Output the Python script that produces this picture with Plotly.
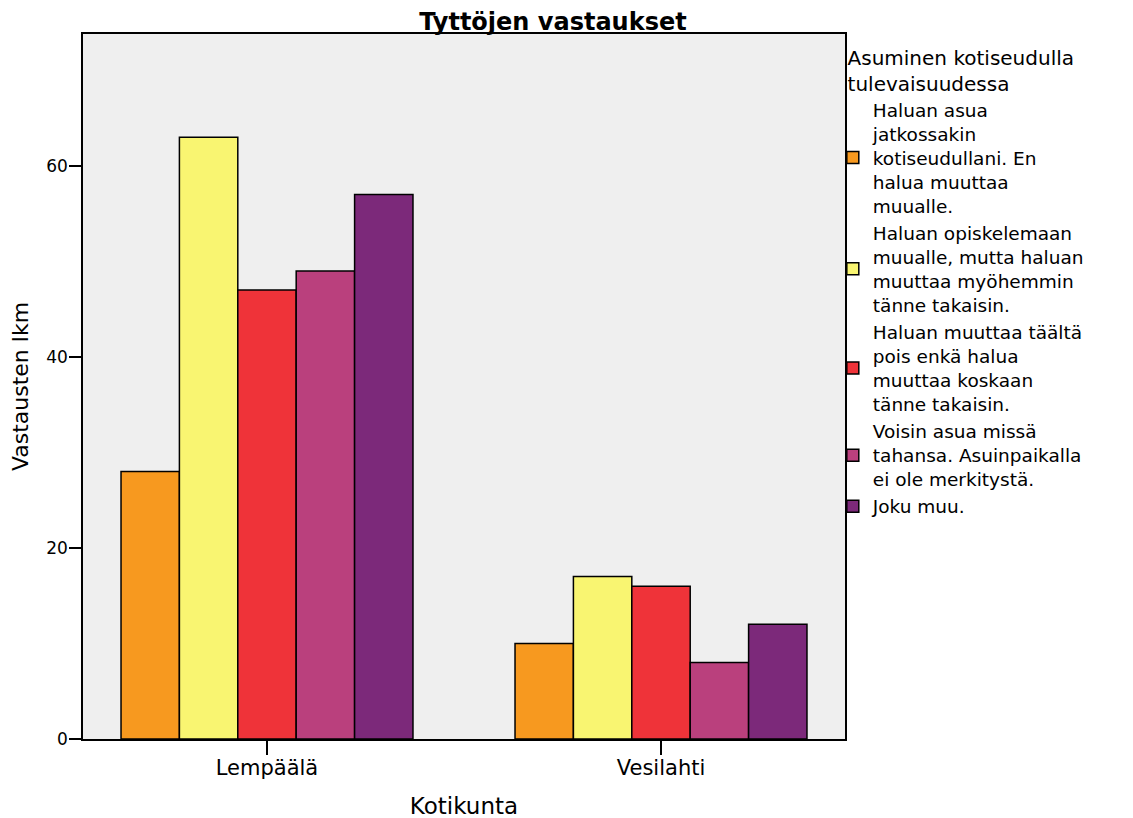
import plotly.graph_objects as go

# -------------------------------------------------
# Data
# -------------------------------------------------

municipalities = ["Lempäälä", "Vesilahti"]

answers = [
    "Haluan asua<br>jatkossakin<br>kotiseudullani. En<br>halua muuttaa<br>muualle.",
    "Haluan opiskelemaan<br>muualle, mutta haluan<br>muuttaa myöhemmin<br>tänne takaisin.",
    "Haluan muuttaa täältä<br>pois enkä halua<br>muuttaa koskaan<br>tänne takaisin.",
    "Voisin asua missä<br>tahansa. Asuinpaikalla<br>ei ole merkitystä.",
    "Joku muu.",
]

stay_home = [28, 10]
study_return = [63, 17]
move_never = [47, 16]
anywhere = [49, 8]
other = [57, 12]

colors = ["#F7991F", "#F9F571", "#EF3339", "#BA407D", "#7C297A"]

FONT = "DejaVu Sans"


# -------------------------------------------------
# Chart
# -------------------------------------------------

fig = go.Figure()

for name, values, color in zip(
    answers,
    [stay_home, study_return, move_never, anywhere, other],
    colors
):
    fig.add_trace(
        go.Bar(
            x=municipalities,
            y=values,
            name=name,
            marker=dict(color=color, line=dict(color="black", width=1.5)),
        )
    )

fig.update_layout(
    width=1133,
    height=818,
    barmode="group",
    bargap=0.259,
    bargroupgap=0,
    paper_bgcolor="white",
    plot_bgcolor="#EFEFEF",
    font=dict(family=FONT, size=19, color="black"),
    margin=dict(l=75, r=296, t=26, b=87, autoexpand=False),
    title=dict(
        text="<b>Tyttöjen vastaukset</b>",
        x=0.481,
        xanchor="center",
        y=0.984,
        yanchor="middle",
        font=dict(size=24),
    ),
    legend=dict(
        title=dict(
            text="Asuminen kotiseudulla<br>tulevaisuudessa",
            side="top center",
            font=dict(size=20),
        ),
        x=0.984,
        xanchor="left",
        y=0.993,
        yanchor="top",
        font=dict(size=18.5),
        tracegroupgap=0,
        itemclick=False,
        bgcolor="rgba(0,0,0,0)",
    ),
    showlegend=True,
)

fig.update_xaxes(
    title=dict(text="Kotikunta", font=dict(size=23), standoff=19),
    automargin=False,
    range=[-0.467, 1.467],
    showline=True,
    linecolor="black",
    linewidth=1.5,
    mirror=True,
    ticks="outside",
    ticklen=14,
    tickwidth=1.5,
    tickcolor="black",
    tickfont=dict(size=21),
    ticklabelstandoff=-5,
    showgrid=False,
)

fig.update_yaxes(
    title=dict(text="Vastausten lkm", font=dict(size=22), standoff=12),
    automargin=False,
    range=[0, 73.8],
    tickvals=[0, 20, 40, 60],
    showline=True,
    linecolor="black",
    linewidth=1.5,
    mirror=True,
    ticks="outside",
    ticklen=12,
    tickwidth=1.5,
    tickcolor="black",
    tickfont=dict(size=17),
    ticklabelstandoff=-2,
    showgrid=False,
    zeroline=False,
)

fig.write_html("out.html")
